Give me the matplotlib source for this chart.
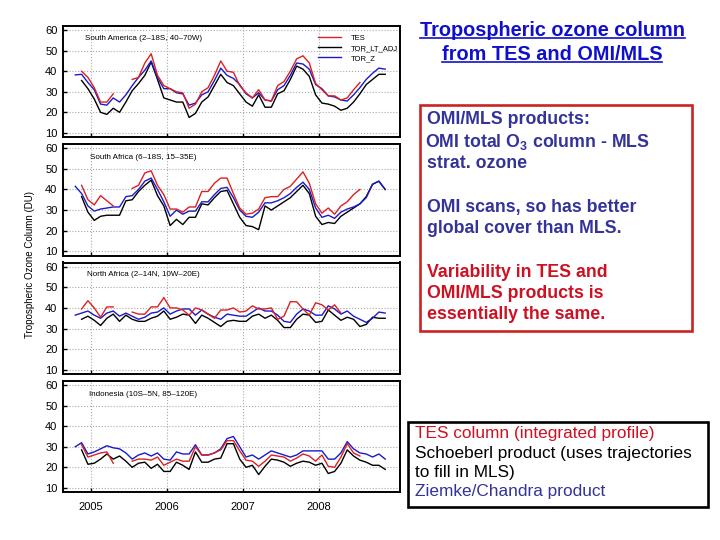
import matplotlib
matplotlib.use('Agg')
import matplotlib.pyplot as plt
import numpy as np
from matplotlib.patches import Rectangle
from matplotlib.lines import Line2D

plt.rcParams['font.family'] = ['Liberation Sans', 'DejaVu Sans']
plt.rcParams['mathtext.fontset'] = 'custom'
plt.rcParams['mathtext.rm'] = 'Liberation Sans'
plt.rcParams['mathtext.bf'] = 'Liberation Sans:bold'

nan = np.nan

# monthly values, Oct 2004 .. Nov 2008 (50 months)
n_months = 50
start_year, start_month = 2004, 10

regions = ['South America (2\u201318S, 40\u201370W)',
           'South Africa (6\u201318S, 15\u201335E)',
           'North Africa (2\u201314N, 10W\u201320E)',
           'Indonesia (10S\u20135N, 85\u2013120E)']

# TES
tes_sam = [nan, 40, 37, 32, 25, 25, 29, nan, nan, 36, 37, 44, 48.5, 38, 33, 31.5, 30, 29.5, 22, 24,
           30, 32, 38, 45, 40, 39.5, 33, 29.5, 27, 31, 26, 25.5, 33, 35, 40, 46, 47.5, 44, 34, 31,
           28, 28, 26, 27, 31, 34.5, nan, nan, nan, nan]
tes_saf = [nan, 42, 35, 32.5, 37, 34.5, 32, nan, nan, 40.5, 42, 48, 49, 42, 37.5, 30.5, 30.5, 29, 31.5, 31.5,
           39, 39, 43, 45.5, 45.5, 38, 31, 28, 28.5, 30.5, 36, 36.5, 36.5, 40, 41.5, 45, 48.5, 43, 33, 28.5,
           31, 28, 32, 34, 37.5, 40, nan, nan, nan, nan]
tes_naf = [nan, 39.5, 43.5, 40, 35.5, 40.5, 40.5, nan, nan, 38, 37, 37, 40.5, 40.5, 45, 40, 40, 39, 36.5, 40,
           39, 37, 35, 39, 39, 40, 38, 38.5, 41, 39.5, 39.5, 40, 34.5, 36, 43, 43, 39.5, 36.5, 42.5, 41.5,
           39, 41.5, 37.5, nan, nan, nan, nan, nan, nan, nan]
tes_ind = [nan, 31, 25, 26, 27, 27.5, 22, nan, nan, 23, 24, 24, 23.5, 25, 21, 22.5, 24, 23, 23, 30,
           26, 26, 27, 28.5, 33, 33, 28, 23.5, 23, 20.5, 23, 26, 25.5, 25, 23, 24.5, 26.5, 25.5, 23, 26,
           20.5, 20, 25, 31.5, 27, 25.5, nan, nan, nan, nan]

# TOR_LT_ADJ
adj_sam = [nan, 35.5, 31.5, 26.5, 20, 19, 22, 20, 25, 30.5, 34, 38, 44.5, 36, 27, 26, 25, 25, 17.5, 19.5,
           25, 27.5, 33, 38.5, 34.5, 33, 29, 25, 23, 28.5, 22.5, 22.5, 29, 30.5, 36, 42.5, 41, 37.5, 28.5, 24.5,
           24, 23, 21, 22, 25, 29, 33.5, 36, 38.5, 38.5]
adj_saf = [nan, 36.5, 29, 25, 27, 27.5, 27.5, 27.5, 34.5, 35, 39, 42, 44.5, 37, 32, 22.5, 25.5, 23, 26.5, 26.5,
           33, 32.5, 36, 39, 39.5, 33, 26.5, 22.5, 22, 20.5, 32, 30, 32, 34, 36, 39, 42, 38, 27, 23,
           24, 23.5, 27, 29, 31, 33, 36.5, 42.5, 44, 40]
adj_naf = [nan, 34.5, 36, 34, 31.5, 35, 37, 33.5, 36.5, 34.5, 33.5, 33.5, 35, 36, 38.5, 34.5, 35.5, 37, 36.5, 32.5,
           36.5, 35, 33, 31, 33.5, 34, 33.5, 33.5, 36, 37, 35, 36.5, 34, 30.5, 30.5, 34.5, 37, 36.5, 33, 33.5,
           39, 36.5, 34, 35.5, 34.5, 31, 32, 35.5, 35, 35]
adj_ind = [nan, 28.5, 21.5, 22, 24, 26.5, 24, 25.5, 23, 20, 22, 22.5, 19.5, 21.5, 18, 18, 22.5, 21, 19, 27.5,
           22.5, 22.5, 24, 24.5, 31.5, 31.5, 24, 20, 21, 16.5, 20.5, 24, 23.5, 22.5, 20.5, 22, 23, 22.5, 21, 22,
           17, 18, 22, 28.5, 25.5, 23.5, 22.5, 21, 21, 19]

# TOR_Z
z_sam = [38.2, 38.5, 34.5, 31, 24, 23.5, 27, 25, 28.5, 33, 37, 40.5, 45, 37, 31.5, 31.5, 29.5, 29, 23.5, 24.5,
         28.5, 30, 35.5, 41.5, 38, 36.5, 33.5, 29, 27, 29.5, 26, 25.5, 31, 33, 38, 44, 43.5, 41, 33.5, 31.5,
         28, 27.5, 26, 25.5, 28.5, 32, 36, 39, 41.5, 41]
z_saf = [41.5, 38, 32, 29.5, 30.5, 31, 31.5, 31.5, 36.5, 37, 40, 44, 45.5, 40, 34, 27, 30, 28, 29.5, 29.5,
         34, 34, 37.5, 40.5, 41, 36, 30, 27, 26.5, 29, 33.5, 33.5, 34.5, 36, 38, 41, 43.5, 40, 31, 26.5,
         27.5, 26, 29, 30.5, 31.5, 33, 36, 42.5, 44, 40]
z_naf = [36.5, 37.5, 38.5, 36.5, 35, 37.5, 38.5, 36, 37.5, 36, 34.5, 35.5, 37.5, 38, 40, 37, 38.5, 39.5, 39.5, 36.5,
         39, 37, 35.5, 34.5, 37, 36.5, 36, 36, 38, 40, 38.5, 38.5, 36.5, 33.5, 33, 37, 39.5, 38.5, 36.5, 36.5,
         41, 39.5, 37, 38.5, 36, 34.5, 33, 35, 38, 37.5]
z_ind = [30, 32, 26.5, 27.5, 29, 30.5, 29.5, 29, 27, 24, 26, 27, 25.5, 27, 24, 23.5, 27.5, 26.5, 26.5, 31,
         26, 26, 27, 29, 34, 35, 30, 25, 26, 24, 26, 28, 27, 26, 25, 26, 28, 28, 28, 28,
         24, 24, 27, 32.5, 29, 27, 26.5, 25, 26.5, 24]

tes = [tes_sam, tes_saf, tes_naf, tes_ind]
adj = [adj_sam, adj_saf, adj_naf, adj_ind]
torz = [z_sam, z_saf, z_naf, z_ind]

years = [2005, 2006, 2007, 2008]
yticks = [10, 20, 30, 40, 50, 60]

# decimal year at mid-month
t = start_year + (start_month - 1 + np.arange(n_months) + 0.5) / 12.0

fig = plt.figure(figsize=(7.2, 5.4), dpi=100)

W, H = 720.0, 540.0
panel_px = [(26, 137), (144, 255.5), (262.5, 374), (381, 492)]
left_px, right_px = 63, 400
title_pos = [(0.065, 0.89), (0.08, 0.875), (0.07, 0.89), (0.078, 0.88)]

red_c = '#dd2020'
blue_c = '#1a1acc'

axes = []
for i, (top, bot) in enumerate(panel_px):
    ax = fig.add_axes([left_px / W, 1 - bot / H, (right_px - left_px) / W, (bot - top) / H])
    ax.plot(t, adj[i], color='black', lw=1.0, label='TOR_LT_ADJ')
    ax.plot(t, torz[i], color=blue_c, lw=1.0, label='TOR_Z')
    ax.plot(t, tes[i], color=red_c, lw=1.0, label='TES')
    ax.set_xlim(2004.63, 2009.07)
    ax.set_ylim(8, 62)
    ax.set_yticks(yticks)
    ax.set_xticks(years)
    ax.grid(True, color='#aaaaaa', linestyle=':', linewidth=0.8)
    ax.tick_params(direction='in', length=3, width=1, labelsize=8, pad=4)
    ax.tick_params(axis='x', pad=7)
    for s in ax.spines.values():
        s.set_linewidth(1.4)
    if i < 3:
        ax.set_xticklabels([])
    ax.text(title_pos[i][0], title_pos[i][1], regions[i], transform=ax.transAxes,
            fontsize=5.8, va='center', ha='left')
    axes.append(ax)

h, l = axes[0].get_legend_handles_labels()
order = [2, 0, 1]
axes[0].legend([h[k] for k in order], [l[k] for k in order], loc='upper left',
               bbox_to_anchor=(0.757, 0.925), frameon=False, fontsize=5.5, borderpad=0,
               borderaxespad=0, handlelength=3.0, handletextpad=1.3, labelspacing=0.38)

fig.text(30 / W, 1 - 265 / H, 'Tropospheric Ozone Column (DU)', rotation=90,
         fontsize=7, va='center', ha='center')

# right-hand slide text
title_c = '#1010cc'
navy = '#333399'
redtxt = '#cc1122'

title_lines = [('Tropospheric ozone column', 36), ('from TES and OMI/MLS', 60)]
title_texts = []
for s, yb in title_lines:
    tt = fig.text(552 / W, 1 - yb / H, s, fontsize=14.3, fontweight='bold', color=title_c,
                  ha='center', va='baseline')
    title_texts.append((tt, yb))

fig.patches.append(Rectangle((420 / W, 1 - 331 / H), 272 / W, 226 / H, transform=fig.transFigure,
                             fill=False, edgecolor='#cc2222', linewidth=1.9))
fig.patches.append(Rectangle((408 / W, 1 - 507 / H), 300 / W, 85 / H, transform=fig.transFigure,
                             fill=False, edgecolor='black', linewidth=1.9))

box_lines = [
    ('OMI/MLS products:', 427, 124.3, navy),
    (r'OMI total O$_{\mathbf{3}}$ column - MLS', 425, 146.7, navy),
    ('strat. ozone', 427, 168, navy),
    ('OMI scans, so has better', 427, 211.7, navy),
    ('global cover than MLS.', 427, 232.7, navy),
    ('Variability in TES and', 427, 276.7, redtxt),
    ('OMI/MLS products is', 427, 297.5, redtxt),
    ('essentially the same.', 427, 319, redtxt),
]
for s, xl, yb, c in box_lines:
    fig.text(xl / W, 1 - yb / H, s, fontsize=12.8, fontweight='bold', color=c,
             ha='left', va='baseline')

legend_lines = [
    ('TES column (integrated profile)', 438, redtxt),
    ('Schoeberl product (uses trajectories', 457.7, 'black'),
    ('to fill in MLS)', 476.7, 'black'),
    ('Ziemke/Chandra product', 496, navy),
]
for s, yb, c in legend_lines:
    fig.text(415 / W, 1 - yb / H, s, fontsize=12.4, color=c, ha='left', va='baseline')

# underline the title
fig.canvas.draw()
renderer = fig.canvas.get_renderer()
for tt, yb in title_texts:
    bb = tt.get_window_extent(renderer=renderer)
    y_line = 1 - (yb + 1.5) / H
    fig.lines.append(Line2D([bb.x0 / W, bb.x1 / W], [y_line, y_line], transform=fig.transFigure,
                            color=title_c, linewidth=1.2))

fig.savefig('out.png', dpi=100)
